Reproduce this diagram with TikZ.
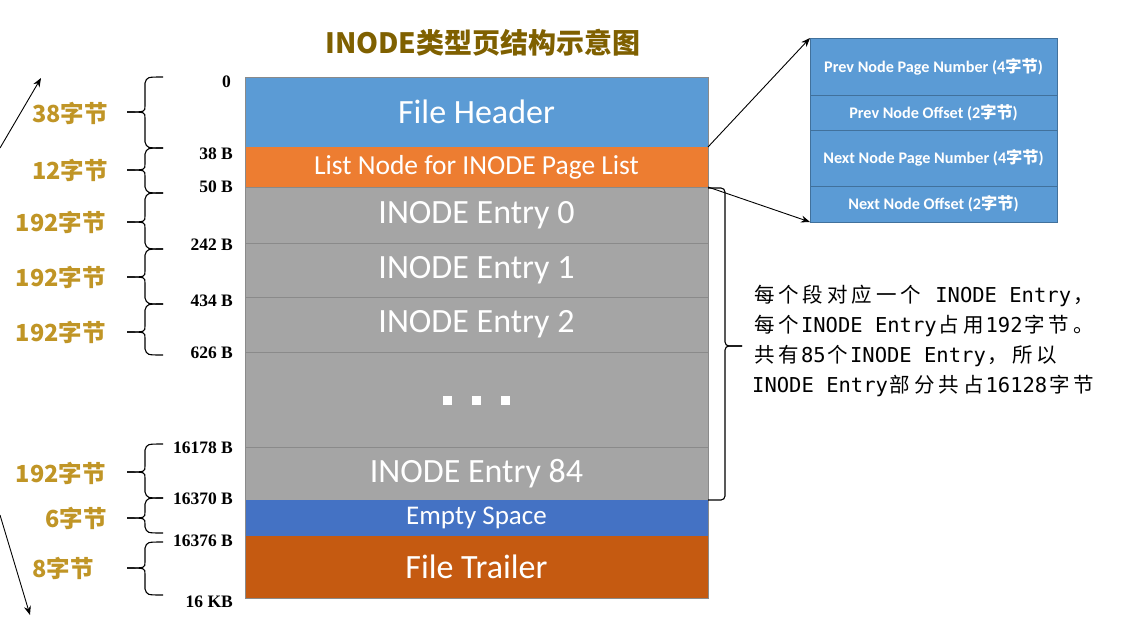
\documentclass[tikz,border=0pt]{standalone}
\usepackage{fontspec}
\setmainfont{Carlito}
\newfontfamily\cjk{Noto Sans CJK SC}
\newfontfamily\serifb{Liberation Serif}
\newfontfamily\mono{DejaVu Sans Mono}
\usetikzlibrary{arrows.meta}
\definecolor{hdrblue}{HTML}{5B9BD5}
\definecolor{lnorange}{HTML}{ED7D31}
\definecolor{entgray}{HTML}{A5A5A5}
\definecolor{sepgray}{HTML}{8A8A8A}
\definecolor{emptyblue}{HTML}{4472C4}
\definecolor{trailer}{HTML}{C55A11}
\definecolor{boxedge}{HTML}{41719C}
\definecolor{titlegold}{HTML}{7F6000}
\definecolor{labgold}{HTML}{C09526}
\newcommand\lbrc[3]{% top, bottom, tip
  \draw[bracestyle] (163,#1) .. controls (147,#1) .. (145,{#1+6}) -- (145,{#3-6}) .. controls (145,#3) .. (127,#3);
  \draw[bracestyle] (127,#3) .. controls (145,#3) .. (145,{#3+6}) -- (145,{#2-6}) .. controls (147,#2) .. (163,#2);}
% fixed-width CJK characters for the monospaced note
\newcommand\cz[1]{\czloop#1\relax}
\def\czloop#1{\ifx#1\relax\else\makebox[24.4pt]{\cjk #1}\expandafter\czloop\fi}
\begin{document}
\begin{tikzpicture}[x=1pt,y=-1pt,
  seg/.style={anchor=north west, minimum width=463pt, inner sep=0pt, outer sep=0pt, text=white, font=\fontsize{34}{36}\selectfont},
  grayseg/.style={seg, fill=entgray, draw=sepgray, line width=0.8pt},
  det/.style={anchor=north west, minimum width=247pt, inner sep=0pt, outer sep=0pt, fill=hdrblue, draw=boxedge, line width=0.8pt, text=white, font=\bfseries\fontsize{16.2}{18}\selectfont},
  offs/.style={anchor=east, inner sep=0pt, font=\serifb\bfseries\fontsize{17.5}{19}\selectfont},
  glab/.style={anchor=east, inner sep=0pt, text=labgold, font=\cjk\bfseries\fontsize{23.5}{26}\selectfont},
  bracestyle/.style={line width=1.1pt, black},
  conn/.style={-{Stealth[length=9pt,width=7pt]}, line width=0.9pt},
  dotsq/.style={fill=white, minimum size=9pt, inner sep=0pt}]
\useasboundingbox (0,0) rectangle (1135,638);

% title
\node[text=titlegold, font=\cjk\bfseries\fontsize{28}{30}\selectfont] (title) at (483,43) {INODE类型页结构示意图};

% main column
\node[seg, fill=hdrblue, draw=boxedge, line width=0.6pt, minimum height=70pt] (fh) at (245,77) {File Header};
\node[seg, fill=lnorange, draw=lnorange, minimum height=40pt, font=\fontsize{27.5}{29}\selectfont] (ln) at (245,147) {List Node for INODE Page List};
\node[grayseg, minimum height=56pt] (e0) at (245,187) {INODE Entry 0};
\node[grayseg, minimum height=54pt] (e1) at (245,243) {INODE Entry 1};
\node[grayseg, minimum height=55pt] (e2) at (245,297) {INODE Entry 2};
\node[grayseg, minimum height=95pt] (edots) at (245,352) {};
\node[grayseg, minimum height=53pt] (e84) at (245,447) {INODE Entry 84};
\node[seg, fill=emptyblue, draw=emptyblue, minimum height=36pt, font=\fontsize{27}{29}\selectfont] (es) at (245,500) {Empty Space};
\node[seg, fill=trailer, draw=trailer, minimum height=62pt] (ft) at (245,536) {File Trailer};
\draw[sepgray, line width=0.8pt] (245,77) rectangle (708,598);

\node[dotsq] (d1) at (447,400) {};
\node[dotsq] (d2) at (476,400) {};
\node[dotsq] (d3) at (505,400) {};

% detail box
\node[det, minimum height=57pt] (pnpn) at (810,38) {Prev Node Page Number (4{\cjk 字节})};
\node[det, minimum height=35pt] (pno) at (810,95) {Prev Node Offset (2{\cjk 字节})};
\node[det, minimum height=56pt] (nnpn) at (810,130) {Next Node Page Number (4{\cjk 字节})};
\node[det, minimum height=36pt] (nno) at (810,186) {Next Node Offset (2{\cjk 字节})};

\draw[conn] (fh.south east) -- (pnpn.north west);
\draw[conn] (e0.north east) -- (nno.south west);

% big right brace
\draw[bracestyle, rounded corners=4pt] (708,188) -- (725,188) -- (725,346) -- (742,346);
\draw[bracestyle, rounded corners=4pt] (708,500) -- (725,500) -- (725,346) -- (742,346);

% annotation
\node[anchor=west, align=left, inner sep=0pt, font=\mono\fontsize{20.5}{30}\selectfont] (note) at (752,341)
{\cz{每个段对应一个} INODE Entry\cz{，}\\
\cz{每个}INODE Entry\cz{占用}192\cz{字节。}\\
\cz{共有}85\cz{个}INODE Entry\cz{，所以}\\
INODE Entry\cz{部分共占}16128\cz{字节}};

% offsets
\node[offs] (o0) at (231,82) {0};
\node[offs] (o38) at (233,154) {38 B};
\node[offs] (o50) at (233,187) {50 B};
\node[offs] (o242) at (233,245) {242 B};
\node[offs] (o434) at (233,301) {434 B};
\node[offs] (o626) at (233,353) {626 B};
\node[offs] (o16178) at (233,448) {16178 B};
\node[offs] (o16370) at (233,499) {16370 B};
\node[offs] (o16376) at (233,541) {16376 B};
\node[offs] (o16k) at (233,602) {16 KB};

% braces
\lbrc{77}{148}{112}
\lbrc{148}{193}{170}
\lbrc{193}{249}{222}
\lbrc{249}{304}{277}
\lbrc{304}{355}{332}
\lbrc{444}{498}{472}
\lbrc{498}{533}{518}
\lbrc{542}{595}{568}

% gold labels
\node[glab] (g1) at (108,113) {38字节};
\node[glab] (g2) at (108,170) {12字节};
\node[glab] (g3) at (106,222) {192字节};
\node[glab] (g4) at (106,277) {192字节};
\node[glab] (g5) at (106,332) {192字节};
\node[glab] (g6) at (106,473) {192字节};
\node[glab] (g7) at (107,518) {6字节};
\node[glab] (g8) at (94,568) {8字节};

% side arrows
\coordinate (ta0) at (0,148);
\coordinate (ta1) at (41,78);
\coordinate (ba0) at (0,515);
\coordinate (ba1) at (30,615);
\draw[conn] (ta0) -- (ta1);
\draw[conn] (ba0) -- (ba1);
\end{tikzpicture}
\end{document}
